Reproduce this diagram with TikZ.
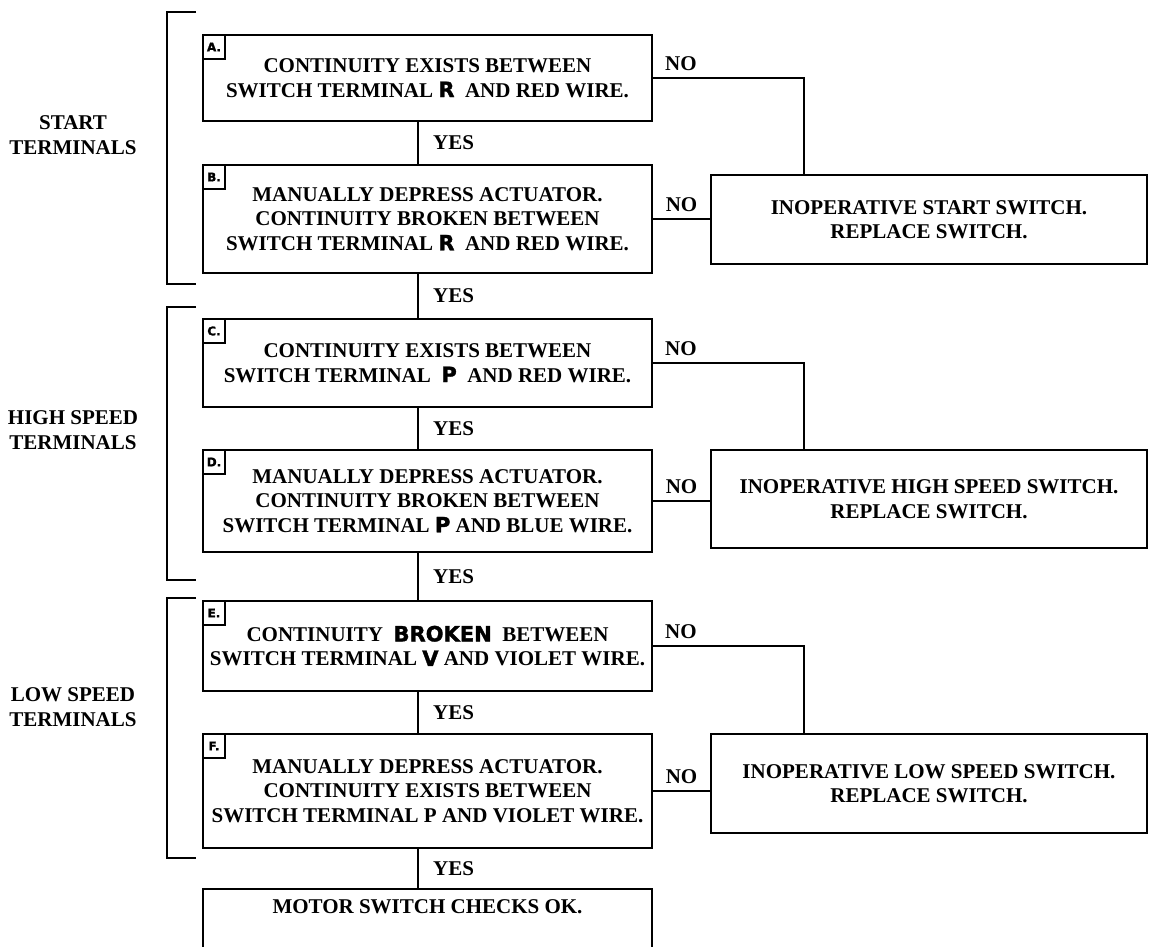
\documentclass[tikz,border=0pt]{standalone}
\usepackage{fontspec}
\setmainfont{Liberation Serif}
\newfontfamily\keyfont[BoldFeatures={FakeBold=1.6}]{DejaVu Sans}
\usetikzlibrary{positioning,calc}

\newcommand{\key}[1]{{\keyfont\bfseries #1}}

\begin{document}
\begin{tikzpicture}[
    x=1pt, y=-1pt,
    line width=2.2pt,
    box/.style={rectangle, draw, line width=2.2pt, minimum width=449pt, inner sep=0pt,
                align=center, font=\fontsize{21}{24.5}\selectfont\bfseries},
    fixbox/.style={box, minimum width=436pt},
    tag/.style={rectangle, draw, line width=2.2pt, minimum width=22pt, minimum height=24pt,
                inner sep=0pt, anchor=north west, font=\keyfont\bfseries\fontsize{12}{12}\selectfont},
    lbl/.style={font=\fontsize{21}{24.5}\selectfont\bfseries, inner sep=0pt},
    side/.style={lbl, align=center}
]
\useasboundingbox (0,0) rectangle (1149,947);
\clip (0,0) rectangle (1149,947);

%% ── Check boxes ──────────────────────────────────────────────────
\node[box, minimum height=86pt] (A) at (427.5,78)
    {CONTINUITY EXISTS BETWEEN\\SWITCH TERMINAL \key{R}\ \ AND RED WIRE.};
\node[box, minimum height=108pt] (B) at (427.5,219)
    {MANUALLY DEPRESS ACTUATOR.\\CONTINUITY BROKEN BETWEEN\\SWITCH TERMINAL \key{R}\ \ AND RED WIRE.};
\node[box, minimum height=88pt] (C) at (427.5,363)
    {CONTINUITY EXISTS BETWEEN\\SWITCH TERMINAL\ \ \key{P}\ \ AND RED WIRE.};
\node[box, minimum height=102pt] (D) at (427.5,501)
    {MANUALLY DEPRESS ACTUATOR.\\CONTINUITY BROKEN BETWEEN\\SWITCH TERMINAL\ \key{P} AND BLUE WIRE.};
\node[box, minimum height=90pt] (E) at (427.5,646)
    {CONTINUITY\ \ \key{BROKEN}\ \ BETWEEN\\SWITCH TERMINAL \key{V} AND VIOLET WIRE.};
\node[box, minimum height=114pt] (F) at (427.5,791)
    {MANUALLY DEPRESS ACTUATOR.\\CONTINUITY EXISTS BETWEEN\\SWITCH TERMINAL P AND VIOLET WIRE.};
\node[box, anchor=north, text height=24pt, text depth=60pt] (ok) at (427.5,888)
    {MOTOR SWITCH CHECKS OK.};

\node[tag] (tagA) at (A.north west) {A.};
\node[tag] (tagB) at (B.north west) {B.};
\node[tag] (tagC) at (C.north west) {C.};
\node[tag] (tagD) at (D.north west) {D.};
\node[tag] (tagE) at (E.north west) {E.};
\node[tag] (tagF) at (F.north west) {F.};

%% ── Replace boxes ────────────────────────────────────────────────
\node[fixbox, minimum height=89pt] (R1) at (929,219.5)
    {INOPERATIVE START SWITCH.\\REPLACE SWITCH.};
\node[fixbox, minimum height=98pt] (R2) at (929,499)
    {INOPERATIVE HIGH SPEED SWITCH.\\REPLACE SWITCH.};
\node[fixbox, minimum height=99pt] (R3) at (929,783.5)
    {INOPERATIVE LOW SPEED SWITCH.\\REPLACE SWITCH.};

%% ── Groups ───────────────────────────────────────────────────────
\node[side] (start) at (73,135) {START\\TERMINALS};
\node[side] (high)  at (73,430) {HIGH SPEED\\TERMINALS};
\node[side] (low)   at (73,707) {LOW SPEED\\TERMINALS};

\draw (196,12)  -- (167,12)  -- (167,284) -- (196,284);
\draw (196,307) -- (167,307) -- (167,580) -- (196,580);
\draw (196,598) -- (167,598) -- (167,858) -- (196,858);

%% ── Connectors ───────────────────────────────────────────────────
\coordinate (spine) at (418,0);
\coordinate (drop)  at (804,0);

\draw (A.south -| spine) -- (B.north -| spine)  node[lbl, midway, right=14pt] {YES};
\draw (B.south -| spine) -- (C.north -| spine)  node[lbl, midway, right=14pt] {YES};
\draw (C.south -| spine) -- (D.north -| spine)  node[lbl, midway, right=14pt] {YES};
\draw (D.south -| spine) -- (E.north -| spine)  node[lbl, midway, right=14pt] {YES};
\draw (E.south -| spine) -- (F.north -| spine)  node[lbl, midway, right=14pt] {YES};
\draw (F.south -| spine) -- (ok.north -| spine) node[lbl, midway, right=14pt] {YES};

\draw (A.east) node[lbl, above right=6pt and 11pt] {NO} -| (R1.north -| drop);
\draw (C.east) node[lbl, above right=6pt and 11pt] {NO} -| (R2.north -| drop);
\draw (E.east) node[lbl, above right=6pt and 11pt] {NO} -| (R3.north -| drop);

\draw (B.east) -- (B.east -| R1.west) node[lbl, midway, above=6pt] {NO};
\draw (D.east) -- (D.east -| R2.west) node[lbl, midway, above=6pt] {NO};
\draw (F.east) -- (F.east -| R3.west) node[lbl, midway, above=6pt] {NO};
\end{tikzpicture}
\end{document}
